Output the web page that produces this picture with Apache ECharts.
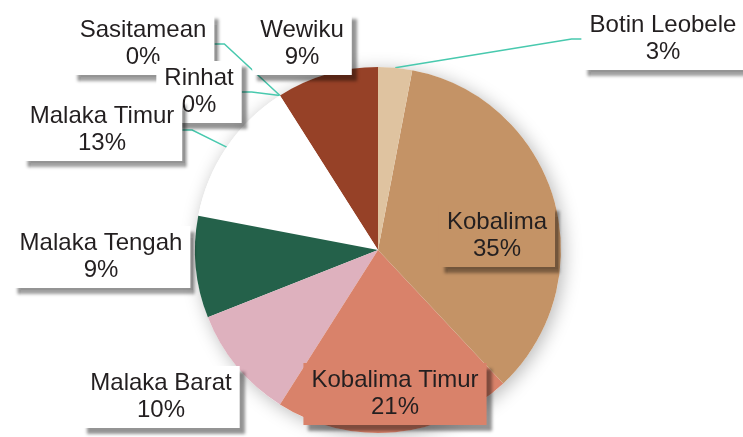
<!DOCTYPE html>
<html>
<head>
<meta charset="utf-8">
<script src="https://cdn.jsdelivr.net/npm/echarts@6/dist/echarts.min.js"></script>
<style>
  html, body { margin: 0; padding: 0; background: #ffffff; }
  #chart { width: 743px; height: 437px; }
</style>
</head>
<body>
<div id="chart"></div>
<script>
// District shares, listed anticlockwise from 12 o'clock
const districts = ['Wewiku', 'Sasitamean', 'Rinhat', 'Malaka Timur', 'Malaka Tengah',
                   'Malaka Barat', 'Kobalima Timur', 'Kobalima', 'Botin Leobele'];
const shares = [9, 0, 0, 13, 9, 10, 21, 35, 3];
const sliceColors = ['#964127', '#8A5A3A', '#B07A50', '#FFFFFF', '#24614A',
                     '#DEB1BE', '#D9826A', '#C49366', '#DFC3A0'];

// Label box centres (px) and which labels get a leader line
const labelCentres = [[302, 44], [143, 44], [199, 92], [102, 130], [101, 257],
                      [161, 397], [395, 394], [497, 236], [663, 39]];
const withLeader = [false, true, true, true, false, false, false, false, true];
const insideLabel = [false, false, false, false, false, false, true, true, false];

const chart = echarts.init(document.getElementById('chart'), null, { renderer: 'canvas' });

const pieData = districts.map((name, i) => ({
  name: name,
  value: shares[i],
  itemStyle: { color: sliceColors[i] },
  label: { backgroundColor: insideLabel[i] ? sliceColors[i] : '#ffffff' },
  labelLine: { show: withLeader[i] }
}));

const centre = [378, 250];
const radius = 183;

chart.setOption({
  backgroundColor: '#ffffff',
  animation: false,
  series: [
    {
      // soft drop shadow under the whole pie
      type: 'pie',
      silent: true,
      center: centre,
      radius: radius,
      z: 1,
      label: { show: false },
      labelLine: { show: false },
      itemStyle: {
        color: '#ffffff',
        shadowBlur: 18,
        shadowColor: 'rgba(0,0,0,0.28)',
        shadowOffsetX: 3,
        shadowOffsetY: 3
      },
      data: [{ value: shares.reduce((a, b) => a + b, 0), name: 'total' }]
    },
    {
      type: 'pie',
      center: centre,
      radius: radius,
      z: 2,
      startAngle: 90,
      clockwise: false,
      avoidLabelOverlap: false,
      percentPrecision: 0,
      label: {
        show: true,
        formatter: '{b}\n{d}%',
        fontFamily: 'Liberation Sans, Arial, sans-serif',
        fontSize: 24,
        lineHeight: 27,
        color: '#231F20',
        align: 'center',
        padding: [4, 8, 4, 8],
        shadowColor: 'rgba(0,0,0,0.42)',
        shadowBlur: 3,
        shadowOffsetX: 5,
        shadowOffsetY: 6
      },
      labelLine: {
        show: true,
        length: 10,
        length2: 10,
        lineStyle: { color: '#48C9AE', width: 1.5 }
      },
      labelLayout: function (params) {
        const p = labelCentres[params.dataIndex];
        return { x: p[0], y: p[1], align: 'center', verticalAlign: 'middle' };
      },
      data: pieData
    }
  ]
});
</script>
</body>
</html>
